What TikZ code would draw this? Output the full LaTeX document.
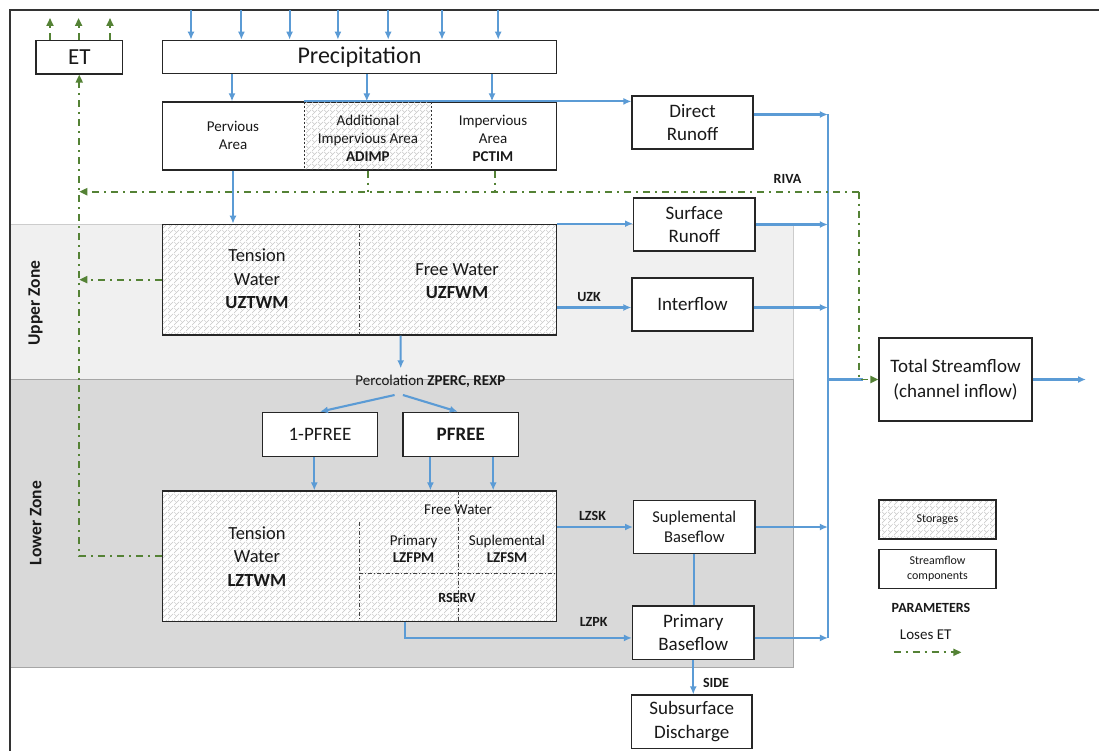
\documentclass[tikz,border=0pt]{standalone}
\usepackage{fontspec}
\setmainfont{Carlito}
\usetikzlibrary{arrows.meta,patterns,patterns.meta}
\definecolor{bl}{RGB}{91,155,213}
\definecolor{gr}{RGB}{84,130,53}
\definecolor{upz}{RGB}{240,240,240}
\definecolor{loz}{RGB}{217,217,217}
\newcommand{\myfs}[2]{\fontsize{#1}{#2}\selectfont}
\tikzdeclarepattern{
  name=dbrick,
  type=uncolored,
  bounding box={(0pt,0pt) and (6pt,6pt)},
  tile size={(6pt,6pt)},
  code={
    \draw[line width=0.5pt] (0pt,0pt) -- (6pt,6pt);
    \draw[line width=0.5pt] (3pt,3pt) -- (0pt,6pt);
  }
}
\tikzset{
  box/.style={draw=black!85, line width=1.2pt, fill=white, inner sep=0pt, align=center, text=black!90},
  store/.style={box, preaction={fill=white}, pattern=dbrick, pattern color=black!22},
  txt/.style={inner sep=0pt, align=center, text=black!90},
  lbl/.style={inner sep=0pt, text=black!90, font=\bfseries\myfs{14}{16}},
  flowline/.style={draw=bl, line width=2.1pt},
  flow/.style={flowline, -{Latex[length=8pt,width=7pt]}},
  etl/.style={draw=gr, line width=1.9pt, dash pattern=on 7pt off 5pt on 2pt off 5pt},
  eta/.style={etl, -{Triangle[length=8pt,width=7pt]}},
  divd/.style={draw=black!75, line width=0.9pt, dash pattern=on 4pt off 2pt on 1pt off 2pt},
  adiv/.style={draw=black!80, line width=0.9pt, dash pattern=on 2.5pt off 1.5pt},
}
\begin{document}
\begin{tikzpicture}[x=1pt,y=-1pt]
\useasboundingbox (0,0) rectangle (1099,751);
\clip (0,0) rectangle (1099,751);
\fill[white] (0,0) rectangle (1099,751);
% zones
\filldraw[fill=upz, draw=black!20, line width=0.8pt] (10,224.3) rectangle (793,379.3);
\filldraw[fill=loz, draw=black!35, line width=0.8pt] (10,379.3) rectangle (793,667.3);
\draw[line width=2pt, black!80] (9.5,10) rectangle (1110,770);
\node[lbl, rotate=90, font=\bfseries\myfs{17.5}{20}] (uzl) at (35.7,303) {Upper Zone};
\node[lbl, rotate=90, font=\bfseries\myfs{17.5}{20}] (lzl) at (35.7,523) {Lower Zone};

% top boxes
\node[box, minimum width=86.5pt, minimum height=33.7pt, font=\myfs{23}{27}] (et) at (79.25,57.2) {ET};
\node[box, minimum width=393.9pt, minimum height=33pt, font=\myfs{24}{28}] (pre) at (359.45,56.8) {Precipitation};
\node[box, minimum width=393.9pt, minimum height=68pt] (area) at (359.45,136) {};
\fill[pattern=dbrick, pattern color=black!22] (304.3,102.6) rectangle (431.4,169.4);
\draw[adiv] (304.3,102) -- (304.3,170);
\draw[adiv] (431.4,102) -- (431.4,170);
\node[txt, font=\myfs{15}{17.5}] (perv) at (233,135.5) {Pervious\\Area};
\node[txt, font=\myfs{15}{18}] (adimp) at (367.9,138.7) {Additional\\Impervious Area\\\textbf{ADIMP}};
\node[txt, font=\myfs{15}{18}] (pctim) at (493,138.7) {Impervious\\Area\\\textbf{PCTIM}};

% upper zone storage
\node[store, minimum width=393.9pt, minimum height=110.7pt] (uz) at (359.45,279.65) {};
\draw[divd] (359,224.3) -- (359,335);
\node[txt, font=\myfs{18.5}{23.5}] (uztw) at (257,279) {Tension\\Water\\\textbf{UZTWM}};
\node[txt, font=\myfs{18.5}{23.5}] (uzfw) at (457,281) {Free Water\\\textbf{UZFWM}};

% percolation
\node[txt, font=\myfs{15}{18}] (perc) at (430.4,381.7) {Percolation \textbf{ZPERC, REXP}};
\node[box, minimum width=115pt, minimum height=44pt, font=\myfs{19}{23}] (pf1) at (320,434.3) {1-PFREE};
\node[box, minimum width=115.7pt, minimum height=44pt, font=\bfseries\myfs{19}{23}] (pf2) at (460.75,434.3) {PFREE};

% lower zone storage
\node[store, minimum width=393.9pt, minimum height=130.7pt] (lz) at (359.45,556.35) {};
\draw[divd] (359,521.7) -- (359,621.7);
\draw[divd] (458.6,491) -- (458.6,621.7);
\draw[divd] (359,573) -- (556.4,573);
\node[txt, font=\myfs{18.5}{23.5}] (lztw) at (257,556.5) {Tension\\Water\\\textbf{LZTWM}};
\node[txt, font=\myfs{15}{17}] (lzfw) at (458,509.3) {Free Water};
\node[txt, font=\myfs{15}{17}] (lzfp) at (413.6,549.2) {Primary\\\textbf{LZFPM}};
\node[txt, font=\myfs{15}{17}] (lzfs) at (507,549.2) {Suplemental\\\textbf{LZFSM}};
\node[lbl] (rserv) at (457,598.3) {RSERV};

% runoff components
\node[box, minimum width=121pt, minimum height=53pt, font=\myfs{19}{23}] (dr) at (692.5,122.5) {Direct\\Runoff};
\node[box, minimum width=121.4pt, minimum height=53pt, font=\myfs{19}{23}] (sr) at (694.3,224.5) {Surface\\Runoff};
\node[box, minimum width=121pt, minimum height=53pt, font=\myfs{19}{23}] (if) at (692.5,304.5) {Interflow};
\node[box, minimum width=121.4pt, minimum height=52.6pt, font=\myfs{16.5}{20}] (sb) at (694.3,527) {Suplemental\\Baseflow};
\node[box, minimum width=121.5pt, minimum height=53.3pt, font=\myfs{19}{23.3}] (pb) at (693.25,632.65) {Primary\\Baseflow};
\node[box, minimum width=120.6pt, minimum height=53.3pt, font=\myfs{19}{24}] (sd) at (691.7,721.65) {Subsurface\\Discharge};
\node[box, minimum width=153pt, minimum height=83pt, font=\myfs{19}{25}] (ts) at (955.5,379.5) {Total Streamflow\\(channel inflow)};

% parameter labels
\node[lbl] (uzk) at (589,297) {UZK};
\node[lbl] (lzsk) at (592.5,516) {LZSK};
\node[lbl] (lzpk) at (593.6,622.3) {LZPK};
\node[lbl] (side) at (716,683.3) {SIDE};
\node[lbl] (riva) at (787.5,179) {RIVA};

% legend
\node[store, minimum width=117pt, minimum height=39pt, font=\myfs{12}{14}] (lgs) at (937.5,519.5) {Storages};
\node[box, minimum width=117pt, minimum height=39pt, font=\myfs{12}{15.6}] (lgc) at (937.5,568.8) {Streamflow\\components};
\node[lbl] (lgp) at (931,608.3) {PARAMETERS};
\node[txt, font=\myfs{15}{18}] (lge) at (925.7,635) {Loses ET};
\coordinate (lga) at (893.6,652.3);
\coordinate (lgb) at (961.4,652.3);
\draw[eta] (lga) -- (lgb);

% blue flows
\foreach \x in {191,241.4,289.6,337.9,388.2,442,498.2}
  \draw[flow] (\x,10) -- (\x,10 |- pre.north);
\foreach \x in {232,366.8,492}
  \draw[flow] (\x,0 |- pre.south) -- (\x,0 |- area.north);
\draw[flow] (304.3,0 |- area.north) -- (dr.west |- area.north);
\coordinate (col) at (827.9,0);
\path ([yshift=8pt]dr.east) coordinate (dre);
\path ([yshift=-5.3pt]pb.west) coordinate (pbw);
\path ([yshift=-5.3pt]pb.east) coordinate (pbe);
\path ([yshift=-3pt]if.west) coordinate (ifw);
\path ([yshift=-3pt]if.east) coordinate (ife);
\draw[flowline] (col |- dre) -- (col |- pbe);
\draw[flow] (dre) -- (col |- dre);
\draw[flow] (perv.south |- area.south) -- (perv.south |- uz.north);
\draw[flow] (uz.north east) -- (sr.west |- uz.north east);
\draw[flow] (sr.east) -- (col |- sr.east);
\draw[flow] (uz.east |- ifw) -- (ifw);
\draw[flow] (ife) -- (col |- ife);
\path ([xshift=41.2pt]uz.south) coordinate (uzb);
\coordinate (perct) at (400.7,368.3);
\draw[flow] (uzb) -- (perct);
\coordinate (ps1) at (394.6,395);
\coordinate (ps2) at (402.9,395);
\draw[flow] (ps1) -- (pf1.north);
\draw[flow] (ps2) -- ([xshift=-3pt]pf2.north);
\draw[flow] ([xshift=-5.7pt]pf1.south) -- ([xshift=-5.7pt]pf1.south |- lz.north);
\draw[flow] ([xshift=-30.35pt]pf2.south) -- ([xshift=-30.35pt]pf2.south |- lz.north);
\draw[flow] ([xshift=32.45pt]pf2.south) -- ([xshift=32.45pt]pf2.south |- lz.north);
\draw[flow] (lz.east |- sb.west) -- (sb.west);
\draw[flow] (sb.east) -- (col |- sb.east);
\draw[flowline] (sb.south) -- (sb.south |- pb.north);
\path ([xshift=45.15pt]lz.south) coordinate (lzb);
\draw[flow] (lzb) |- (pbw);
\draw[flow] (pbe) -- (col |- pbe);
\draw[flow] (pb.south) -- (pb.south |- sd.north);
\draw[flow] (ts.east) -- (1086,0 |- ts.east);
\draw[flowline] (col |- ts.west) -- ([xshift=-15pt]ts.west);

% green ET losses
\foreach \x in {50,78.6,110}
  \draw[eta] (\x,0 |- et.north) -- (\x,18);
\draw[eta] (lz.west) -| (et.south);
\draw[eta] (uz.west) -- (et.south |- uz.west);
\coordinate (rv) at (858.6,191.7);
\draw[etl] (367.9,0 |- area.south) -- (367.9,0 |- rv);
\draw[etl] (495,0 |- area.south) -- (495,0 |- rv);
\draw[eta] (rv) -- (et.south |- rv);
\draw[eta] (rv) |- (ts.west);
\end{tikzpicture}
\end{document}
